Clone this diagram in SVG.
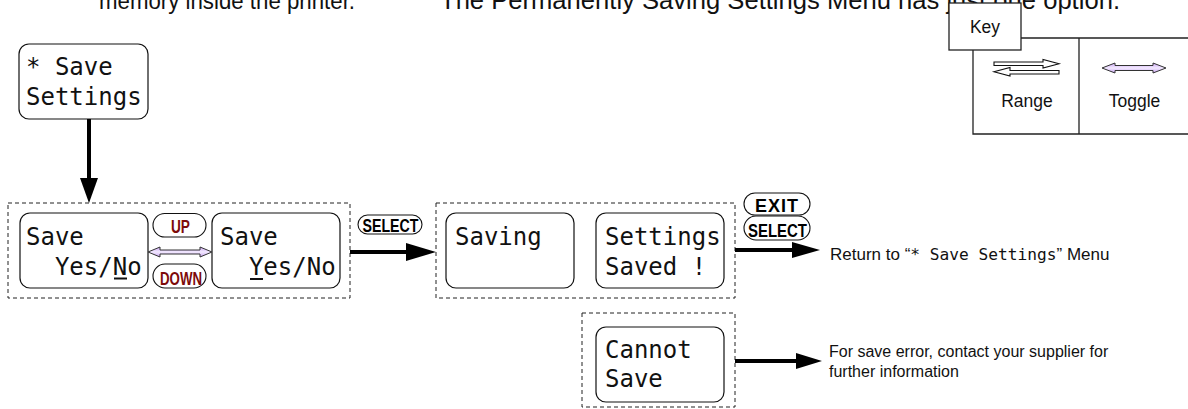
<svg xmlns="http://www.w3.org/2000/svg" width="1188" height="409" viewBox="0 0 1188 409">
<defs>
<linearGradient id="tg" x1="0" y1="0" x2="0" y2="1">
<stop offset="0" stop-color="#c9a3f2"/>
<stop offset="0.5" stop-color="#f3eaff"/>
<stop offset="1" stop-color="#c9a3f2"/>
</linearGradient>
<style>
.para{font-family:"Liberation Sans",Arial,sans-serif;fill:#111}
.sans{font-family:"Liberation Sans",Arial,sans-serif;fill:#111}
.lcd{font-family:"DejaVu Sans Mono",monospace;font-size:24px;fill:#111}
.mono{font-family:"DejaVu Sans Mono",monospace;fill:#111}
.box{fill:#fff;stroke:#111;stroke-width:1.2}
.grp{fill:none;stroke:#222;stroke-width:1;stroke-dasharray:4 3}
.pill{fill:#fff;stroke:#111;stroke-width:1.1}
.btn{font-family:"Liberation Sans",Arial,sans-serif;font-weight:bold;font-size:18px;fill:#000}
.btnr{font-family:"Liberation Sans",Arial,sans-serif;font-weight:bold;font-size:18px;fill:#7d0a0a}
.conn{stroke:#000;stroke-width:4;fill:none}
.head{fill:#000}
.tog{fill:url(#tg);stroke:#333;stroke-width:1}
.key{fill:#fff;stroke:#222;stroke-width:1.3}
.rng{fill:#fff;stroke:#111;stroke-width:1.1}
.ul{stroke:#111;stroke-width:2}
</style>
</defs>

<text class="para" x="99" y="9" font-size="24" textLength="256" lengthAdjust="spacingAndGlyphs">memory inside the printer.</text>
<text class="para" x="440" y="9" font-size="25" textLength="680" lengthAdjust="spacingAndGlyphs">The Permanently Saving Settings Menu has just one option.</text>

<g id="key">
<rect class="key" x="949" y="3" width="72" height="47"/>
<text class="sans" x="985" y="33" font-size="17.5" text-anchor="middle">Key</text>
<path d="M1021,38 H1190 M973,50 V134 H1190 M1079,38 V134" fill="none" stroke="#222" stroke-width="1.3"/>
<path class="rng" d="M994,62 H1043 V59.5 L1059,63.75 L1043,68 V65.5 H994 Z"/>
<path class="rng" d="M1059,70.5 H1010 V67.5 L994,71.75 L1010,76 V74 H1059 Z"/>
<text class="sans" x="1027" y="107" font-size="17.5" text-anchor="middle">Range</text>
<path class="tog" d="M1102,68 L1115,63 V65.5 H1153 V63 L1166,68 L1153,73 V70.5 H1115 V73 Z"/>
<text class="sans" x="1134.5" y="107" font-size="17.5" text-anchor="middle">Toggle</text>
</g>

<g id="node-save-settings">
<rect class="box" x="19" y="44" width="129" height="75" rx="10"/>
<text class="lcd" x="26" y="75">* Save</text>
<text class="lcd" x="26" y="105">Settings</text>
</g>

<g id="group-confirm">
<rect class="grp" x="8" y="203" width="342" height="95"/>
</g>

<g id="node-save-no">
<rect class="box" x="20" y="213" width="128" height="75" rx="10"/>
<text class="lcd" x="26" y="245">Save</text>
<text class="lcd" x="26" y="275" xml:space="preserve">  Yes/No</text>
<line class="ul" x1="114" y1="278.5" x2="127" y2="278.5"/>
</g>

<g id="node-save-yes">
<rect class="box" x="212" y="213" width="128" height="75" rx="10"/>
<text class="lcd" x="220" y="245">Save</text>
<text class="lcd" x="220" y="275" xml:space="preserve">  Yes/No</text>
<line class="ul" x1="250" y1="279" x2="263" y2="279"/>
</g>

<g id="btn-up">
<rect class="pill" x="153" y="213.5" width="53" height="23.5" rx="11.75"/>
<text class="btnr" x="180.5" y="233" text-anchor="middle" textLength="19" lengthAdjust="spacingAndGlyphs">UP</text>
</g>
<g id="btn-down">
<rect class="pill" x="153" y="264" width="53" height="24" rx="12"/>
<text class="btnr" x="181" y="284.5" text-anchor="middle" textLength="42" lengthAdjust="spacingAndGlyphs">DOWN</text>
</g>

<g id="group-saving">
<rect class="grp" x="436" y="203" width="299" height="95"/>
</g>

<g id="node-saving">
<rect class="box" x="446" y="213" width="128" height="75" rx="10"/>
<text class="lcd" x="455" y="245">Saving</text>
</g>

<g id="node-saved">
<rect class="box" x="596" y="213" width="128" height="75" rx="10"/>
<text class="lcd" x="605" y="245">Settings</text>
<text class="lcd" x="605" y="275">Saved !</text>
</g>

<g id="group-cannot">
<rect class="grp" x="582" y="313" width="153" height="94"/>
</g>

<g id="node-cannot-save">
<rect class="box" x="596" y="327" width="128" height="75" rx="10"/>
<text class="lcd" x="605" y="358">Cannot</text>
<text class="lcd" x="605" y="387">Save</text>
</g>

<g id="btn-select-1">
<rect class="pill" x="358" y="215" width="64" height="19" rx="9.5"/>
<text class="btn" x="390.5" y="231.5" text-anchor="middle" textLength="56" lengthAdjust="spacingAndGlyphs">SELECT</text>
</g>
<g id="btn-exit">
<rect class="pill" x="744" y="193" width="66" height="22" rx="11"/>
<text class="btn" x="776.5" y="212" text-anchor="middle" textLength="43" lengthAdjust="spacing">EXIT</text>
</g>
<g id="btn-select-2">
<rect class="pill" x="744" y="216" width="66" height="24" rx="12"/>
<text class="btn" x="777.5" y="237" text-anchor="middle" textLength="59" lengthAdjust="spacingAndGlyphs">SELECT</text>
</g>

<g id="note-return">
<text class="sans" x="830" y="260" font-size="17">Return to “<tspan class="mono" font-size="16.2">* Save Settings</tspan>” Menu</text>
</g>
<g id="note-error">
<text class="sans" x="829" y="357" font-size="16">For save error, contact your supplier for</text>
<text class="sans" x="829" y="377" font-size="16">further information</text>
</g>

<g id="connectors">
<line class="conn" x1="89" y1="119" x2="89" y2="182"/>
<polygon class="head" points="80,178 98,178 89,203"/>
<path class="tog" d="M148,252 L160,247 V250 H200 V247 L212,252 L200,257 V254 H160 V257 Z"/>
<line class="conn" x1="350" y1="252" x2="410" y2="252"/>
<polygon class="head" points="406,243 436,252 406,261"/>
<line class="conn" x1="735" y1="250" x2="796" y2="250"/>
<polygon class="head" points="792,242 820,250 792,258"/>
<line class="conn" x1="735" y1="361" x2="800" y2="361"/>
<polygon class="head" points="796,353 822,361 796,369"/>
</g>
</svg>
